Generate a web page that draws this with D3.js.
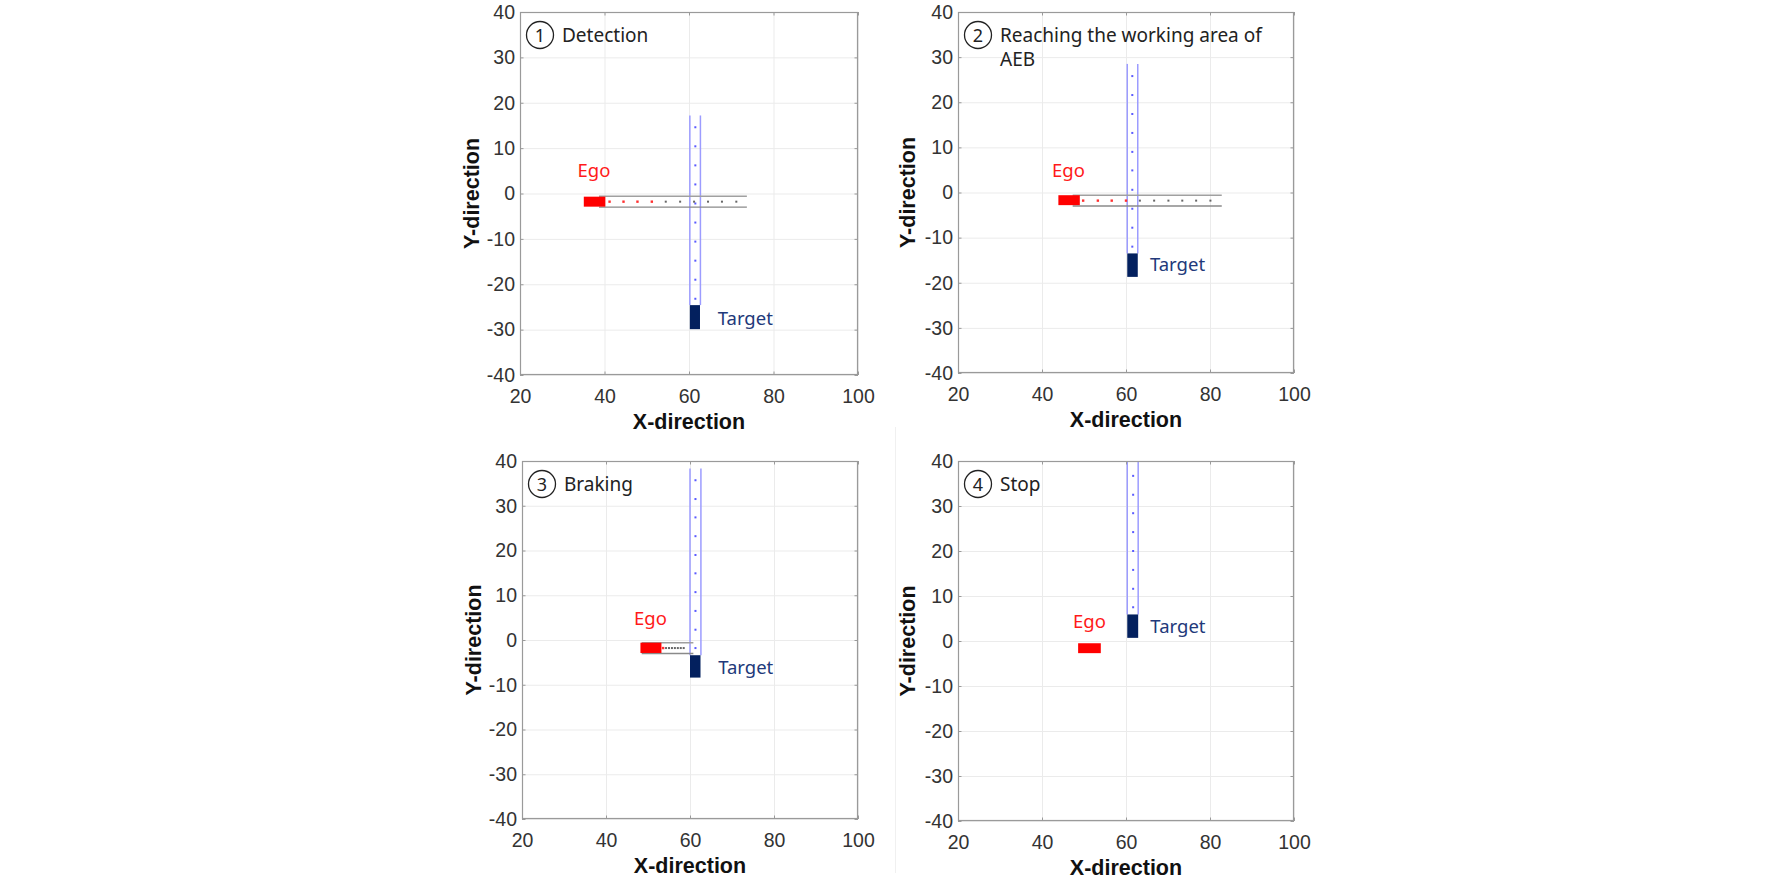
<!DOCTYPE html>
<html><head><meta charset="utf-8">
<script src="https://cdn.jsdelivr.net/npm/d3@7"></script>
<style>html,body{margin:0;padding:0;background:#fff;} svg{display:block}</style>
</head><body>
<svg id="c" width="1772" height="879"></svg>
<script>
// ---------- data ----------
const xTicks = [20, 40, 60, 80, 100];
const yTicks = [-40, -30, -20, -10, 0, 10, 20, 30, 40];
const stepNumbers = ["1", "2", "3", "4"];
const stepTitles = [["Detection"], ["Reaching the working area of", "AEB"], ["Braking"], ["Stop"]];
const egoBoxX = [[35.1, 40.2], [43.9, 49.0], [48.2, 53.2], [48.6, 54.0]];
const egoBoxY = [[-2.9, -0.7], [-2.8, -0.6], [-2.9, -0.6], [-2.7, -0.5]];
const targetBoxX = [[60.2, 62.6], [60.3, 62.8], [60.0, 62.5], [60.3, 62.9]];
const targetBoxY = [[-29.9, -24.6], [-18.7, -13.5], [-8.4, -3.4], [0.7, 5.9]];
const egoLaneX = [[38.7, 73.7], [47.3, 82.8], [48.5, 60.8], null];
const egoLaneY = [-0.6, -3.0];
const targetLaneX = [[60.2, 62.7], [60.3, 62.8], [60.0, 62.6], [60.3, 62.9]];
const targetLaneTop = [17.2, 28.5, 38.3, 45];
const egoDotY = -1.8;
const egoDotsRed = [[41.2, 44.5, 47.8, 51.2], [49.8, 53.3, 56.6, 60.0], [53.6], []];
const egoDotsGray = [[54.5, 57.9, 61.2, 64.5, 67.8, 71.2], [63.3, 66.7, 70.1, 73.4, 76.7, 80.1], [54.3, 55.0, 55.7, 56.4, 57.1, 57.8, 58.5], []];
const targetDotX = [61.5, 61.5, 61.3, 61.7];
const targetDotsY = [
  [14.6, 10.4, 6.2, 2.0, -2.2, -6.4, -10.6, -14.8, -19.0, -23.2],
  [25.8, 21.6, 17.4, 13.2, 9.0, 4.9, 0.6, -3.6, -7.8, -12.0],
  [35.7, 31.5, 27.4, 23.2, 19.0, 14.9, 10.7, 6.5, 2.3, -1.8],
  [36.7, 32.5, 28.4, 24.2, 20.0, 15.8, 11.6, 7.5]
];
const egoLabelXY = [[37.5, 3.7], [46.3, 3.4], [50.6, 3.3], [51.3, 3.0]];
const targetLabelXY = [[66.8, -29.0], [65.7, -17.5], [66.7, -7.7], [65.8, 1.7]];
const egoText = "Ego", targetText = "Target", xTitle = "X-direction", yTitle = "Y-direction";

// ---------- layout ----------
const layout = [
  {l: 520, t: 12, w: 338, h: 363},
  {l: 958, t: 12, w: 336, h: 361},
  {l: 522, t: 461, w: 336, h: 358},
  {l: 958, t: 461, w: 336, h: 360}
];
const svg = d3.select("#c");
const tickFont = "'Liberation Sans', Arial, Helvetica, sans-serif";
const noteFont = "'Noto Sans', 'Noto Sans CJK KR', sans-serif";
const fmt = d => String(d);

svg.append("line").attr("x1", 895.5).attr("x2", 895.5).attr("y1", 427).attr("y2", 873)
  .attr("stroke", "#f0f0f0").attr("stroke-width", 1);

layout.forEach((p, i) => {
  const x = d3.scaleLinear().domain([20, 100]).range([p.l, p.l + p.w]);
  const y = d3.scaleLinear().domain([-40, 40]).range([p.t + p.h, p.t]);
  const g = svg.append("g");
  const clipId = "clip" + i;
  svg.append("clipPath").attr("id", clipId).append("rect")
    .attr("x", p.l).attr("y", p.t).attr("width", p.w).attr("height", p.h);

  // grid
  g.append("g").attr("transform", `translate(0,${p.t + p.h})`)
    .call(d3.axisBottom(x).tickValues(xTicks).tickSize(-p.h).tickFormat(""))
    .call(s => { s.select(".domain").remove(); s.selectAll("line").attr("stroke", "#ebebeb"); });
  g.append("g").attr("transform", `translate(${p.l},0)`)
    .call(d3.axisLeft(y).tickValues(yTicks).tickSize(-p.w).tickFormat(""))
    .call(s => { s.select(".domain").remove(); s.selectAll("line").attr("stroke", "#ebebeb"); });

  const plot = g.append("g").attr("clip-path", `url(#${clipId})`);

  // target lane lines
  targetLaneX[i].forEach(xv => {
    plot.append("line").attr("x1", x(xv)).attr("x2", x(xv))
      .attr("y1", y(targetLaneTop[i])).attr("y2", y(targetBoxY[i][1]))
      .attr("stroke", "#9c9cff").attr("stroke-width", 1.5);
  });
  // ego lane lines
  if (egoLaneX[i]) {
    egoLaneY.forEach((yv, k) => {
      plot.append("line").attr("x1", x(egoLaneX[i][0])).attr("x2", x(egoLaneX[i][1]))
        .attr("y1", y(yv)).attr("y2", y(yv))
        .attr("stroke", k === 0 ? "#a0a0a0" : "#8a8a8a").attr("stroke-width", 1.4);
    });
  }
  // target dots
  plot.selectAll(".td").data(targetDotsY[i]).enter().append("rect")
    .attr("x", x(targetDotX[i]) - 1).attr("y", d => y(d) - 1)
    .attr("width", 2).attr("height", 2).attr("fill", "#5a5aff");
  // ego dots
  plot.selectAll(".gd").data(egoDotsGray[i]).enter().append("rect")
    .attr("x", d => x(d) - 1).attr("y", y(egoDotY) - 1)
    .attr("width", 2).attr("height", 2).attr("fill", "#666");
  plot.selectAll(".rd").data(egoDotsRed[i]).enter().append("rect")
    .attr("x", d => x(d) - 1.2).attr("y", y(egoDotY) - 1.2)
    .attr("width", 2.4).attr("height", 2.4).attr("fill", "#ff3030");
  // boxes
  plot.append("rect").attr("x", x(egoBoxX[i][0])).attr("y", y(egoBoxY[i][1]))
    .attr("width", x(egoBoxX[i][1]) - x(egoBoxX[i][0]))
    .attr("height", y(egoBoxY[i][0]) - y(egoBoxY[i][1])).attr("fill", "#ff0000");
  plot.append("rect").attr("x", x(targetBoxX[i][0])).attr("y", y(targetBoxY[i][1]))
    .attr("width", x(targetBoxX[i][1]) - x(targetBoxX[i][0]))
    .attr("height", y(targetBoxY[i][0]) - y(targetBoxY[i][1])).attr("fill", "#03205e");

  // labels
  g.append("text").attr("x", x(egoLabelXY[i][0])).attr("y", y(egoLabelXY[i][1]))
    .attr("text-anchor", "middle").attr("font-family", noteFont).attr("font-size", 18.5)
    .attr("fill", "#ff1a1a").text(egoText);
  g.append("text").attr("x", x(targetLabelXY[i][0])).attr("y", y(targetLabelXY[i][1]))
    .attr("font-family", noteFont).attr("font-size", 18.5)
    .attr("fill", "#22397a").text(targetText);

  // box
  g.append("rect").attr("x", p.l + 0.5).attr("y", p.t + 0.5).attr("width", p.w - 1).attr("height", p.h - 1)
    .attr("fill", "none").attr("stroke", "#9a9a9a").attr("stroke-width", 1.2);

  // axes with inward ticks on all sides
  const tk = 3.5;
  const axB = g.append("g").attr("transform", `translate(0,${p.t + p.h})`)
    .call(d3.axisBottom(x).tickValues(xTicks).tickFormat(fmt).tickSizeInner(-tk).tickSizeOuter(0).tickPadding(10));
  const axL = g.append("g").attr("transform", `translate(${p.l},0)`)
    .call(d3.axisLeft(y).tickValues(yTicks).tickFormat(fmt).tickSizeInner(-tk).tickSizeOuter(0).tickPadding(5));
  const axT = g.append("g").attr("transform", `translate(0,${p.t})`)
    .call(d3.axisTop(x).tickValues(xTicks).tickSizeInner(-tk).tickSizeOuter(0).tickFormat(""));
  const axR = g.append("g").attr("transform", `translate(${p.l + p.w},0)`)
    .call(d3.axisRight(y).tickValues(yTicks).tickSizeInner(-tk).tickSizeOuter(0).tickFormat(""));
  [axB, axL, axT, axR].forEach(a => {
    a.select(".domain").remove();
    a.selectAll("line").attr("stroke", "#9a9a9a");
    a.selectAll("text").attr("font-family", tickFont).attr("font-size", 19.5).attr("fill", "#333");
  });
  axB.selectAll("text").attr("dy", "0.92em");

  // axis titles
  g.append("text").attr("x", p.l + p.w / 2).attr("y", p.t + p.h + 54)
    .attr("text-anchor", "middle").attr("font-family", tickFont).attr("font-weight", "bold")
    .attr("font-size", 21.5).attr("fill", "#111").text(xTitle);
  const yl = (i % 2 === 0) ? p.l - 48 : p.l - 50;
  g.append("text").attr("transform", `translate(${yl + 7},${p.t + p.h / 2}) rotate(-90)`)
    .attr("text-anchor", "middle").attr("font-family", tickFont).attr("font-weight", "bold")
    .attr("font-size", 21.5).attr("fill", "#111").text(yTitle);

  // step annotation
  const cx = p.l + 20, cy = p.t + 23;
  g.append("circle").attr("cx", cx).attr("cy", cy).attr("r", 13.5)
    .attr("fill", "none").attr("stroke", "#222").attr("stroke-width", 1.3);
  g.append("text").attr("x", cx).attr("y", cy + 6.5).attr("text-anchor", "middle")
    .attr("font-family", noteFont).attr("font-size", 18).attr("fill", "#222").text(stepNumbers[i]);
  stepTitles[i].forEach((line, k) => {
    g.append("text").attr("x", p.l + 42).attr("y", p.t + 30 + k * 23.5)
      .attr("font-family", noteFont).attr("font-size", 19).attr("fill", "#222").text(line);
  });
});
</script>
</body></html>
